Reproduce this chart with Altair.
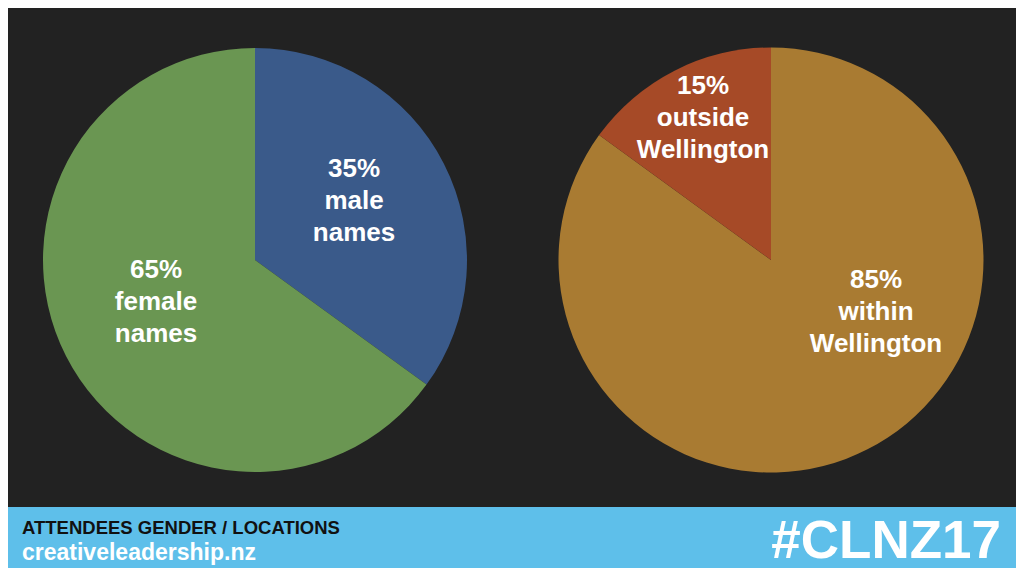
import altair as alt
import pandas as pd

# ---- data ----
gender_cats = ["male names", "female names"]
gender_vals = [35, 65]
gender_labels = ["35%\nmale\nnames", "65%\nfemale\nnames"]

loc_cats = ["within Wellington", "outside Wellington"]
loc_vals = [85, 15]
loc_labels = ["85%\nwithin\nWellington", "15%\noutside\nWellington"]

color_domain = ["male names", "female names", "within Wellington", "outside Wellington"]
color_range = ["#3a5a8a", "#6a9652", "#a97b32", "#a64a27"]

footer_title = "ATTENDEES GENDER / LOCATIONS"
footer_site = "creativeleadership.nz"
footer_tag = "#CLNZ17"

W, H = 1008, 560
FONT = "Liberation Sans"

gender_df = pd.DataFrame({"cat": gender_cats, "val": gender_vals, "ord": list(range(len(gender_cats)))})
loc_df = pd.DataFrame({"cat": loc_cats, "val": loc_vals, "ord": list(range(len(loc_cats)))})

color_scale = alt.Scale(domain=color_domain, range=color_range)


def pie(df, cx, cy, r):
    return alt.Chart(df).mark_arc(radius=r, stroke=None).encode(
        theta=alt.Theta("val:Q", stack=True),
        color=alt.Color("cat:N", scale=color_scale, legend=None),
        order=alt.Order("ord:Q"),
        x=alt.value(cx),
        y=alt.value(cy),
    )


def label(text, x, y, size=26, color="white", align="center", baseline="alphabetic"):
    return alt.Chart(pd.DataFrame({"t": [text]})).mark_text(
        font=FONT, fontWeight="bold", fontSize=size, color=color,
        align=align, baseline=baseline, lineBreak="\n", lineHeight=32,
    ).encode(text="t:N", x=alt.value(x), y=alt.value(y))


pie_left = pie(gender_df, 247, 252, 212)
pie_right = pie(loc_df, 763, 252, 212.5)

labels = [
    label(gender_labels[0], 346, 169),
    label(gender_labels[1], 148, 270),
    label(loc_labels[0], 868, 280),
    label(loc_labels[1], 695, 86),
]

footer = alt.Chart(pd.DataFrame({"a": [0]})).mark_rect(color="#5ebfea").encode(
    x=alt.value(0), x2=alt.value(W), y=alt.value(499), y2=alt.value(H)
)

f1 = label(footer_title, 14, 526, size=18.5, color="#111111", align="left")
f2 = label(footer_site, 14, 552, size=23, color="white", align="left")
f3 = label(footer_tag, 993, 550, size=53, color="white", align="right")

chart = alt.layer(pie_left, pie_right, *labels, footer, f1, f2, f3).resolve_scale(
    theta="independent"
).properties(
    width=W, height=H, background="#222222", padding=0,
    autosize=alt.AutoSizeParams(type="none"),
).configure_view(stroke=None)

chart.save("out.html", embed_options={"renderer": "svg", "actions": False})
